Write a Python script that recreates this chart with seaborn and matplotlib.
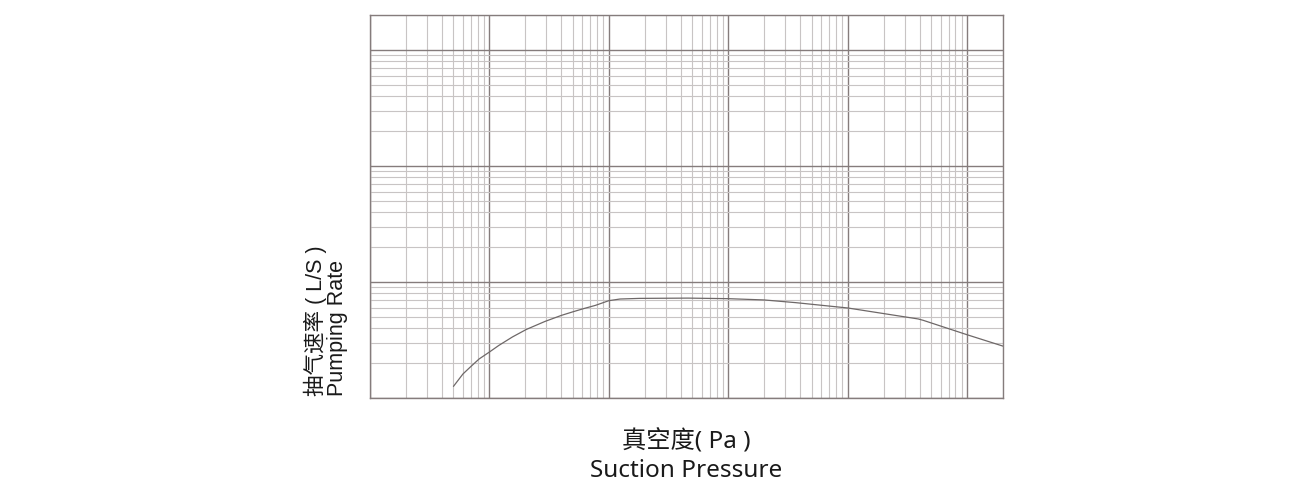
import numpy as np
import pandas as pd
import matplotlib
matplotlib.use("Agg")
import matplotlib.pyplot as plt
from matplotlib.ticker import LogLocator, NullFormatter
import seaborn as sns

# suction pressure (Pa) vs pumping rate (L/S)
pressure = [0.5, 0.6, 0.7, 0.82, 1.0, 1.2, 1.56, 2.04, 2.92, 4.0, 4.94, 6.14, 7.74, 10,
            12.4, 18, 46, 100, 200, 370, 1000, 3900, 4300, 10000, 20000]
pumping_rate = [1.26, 1.61, 1.87, 2.17, 2.49, 2.84, 3.36, 3.90, 4.57, 5.15, 5.51, 5.89, 6.29, 6.90,
                7.13, 7.22, 7.26, 7.18, 7.0, 6.63, 5.97, 4.8, 4.67, 3.51, 2.8]

x_range = [0.1, 20000]
y_range = [1, 2000]

ylabel_cn = "抽气速率 ( L/S )"
ylabel_en = "Pumping Rate"
xlabel_cn = "真空度( Pa )"
xlabel_en = "Suction Pressure"

df = pd.DataFrame({"pressure": pressure, "rate": pumping_rate})

sns.set_style("white")
plt.rcParams["font.family"] = ["Liberation Sans", "Noto Sans CJK SC"]

fig = plt.figure(figsize=(13, 5), dpi=100)
ax = fig.add_axes([370 / 1300, 1 - 398 / 500, 633 / 1300, 383 / 500])

sns.lineplot(data=df, x="pressure", y="rate", ax=ax, color="#6e6868",
             linewidth=0.9, estimator=None, sort=False)

ax.set_xscale("log")
ax.set_yscale("log")
ax.set_xlim(x_range)
ax.set_ylim(y_range)

for axis in (ax.xaxis, ax.yaxis):
    axis.set_major_locator(LogLocator(base=10, numticks=20))
    axis.set_minor_locator(LogLocator(base=10, subs=np.arange(2, 10), numticks=100))
    axis.set_major_formatter(NullFormatter())
    axis.set_minor_formatter(NullFormatter())

ax.grid(which="major", color="#857c7c", linewidth=1.0)
ax.grid(which="minor", color="#c8c4c4", linewidth=0.8)
ax.set_axisbelow(True)
ax.tick_params(which="both", length=0)
ax.set_xlabel("")
ax.set_ylabel("")
for sp in ax.spines.values():
    sp.set_color("#857c7c")
    sp.set_linewidth(1.0)

# axis titles (two lines each)
fig.text(315 / 1300, 1 - 396 / 500, ylabel_cn, rotation=90, ha="center", va="bottom",
         fontsize=15.5, color="#1a1a1a")
fig.text(337 / 1300, 1 - 396 / 500, ylabel_en, rotation=90, ha="center", va="bottom",
         fontsize=15.5, color="#1a1a1a")
fig.text(686.5 / 1300, 1 - 442 / 500, xlabel_cn, ha="center", va="center",
         fontsize=17.5, color="#1a1a1a", family=["Noto Sans", "Noto Sans CJK SC"])
fig.text(686.5 / 1300, 1 - 471 / 500, xlabel_en, ha="center", va="center",
         fontsize=17.5, color="#1a1a1a", family=["Noto Sans", "Noto Sans CJK SC"])

fig.savefig("out.png", dpi=100)
plt.close(fig)
